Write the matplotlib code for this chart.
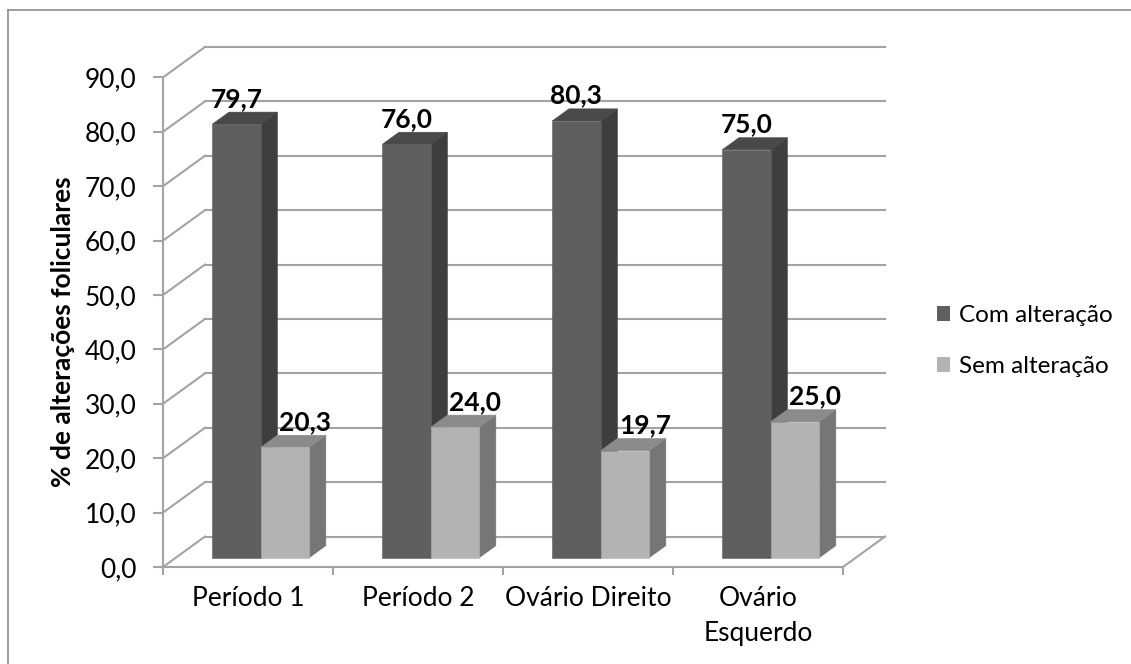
import numpy as np
import matplotlib
matplotlib.use('Agg')
import matplotlib.pyplot as plt
from matplotlib.patches import Polygon, Patch
from matplotlib.lines import Line2D

plt.rcParams['font.family'] = ['Lato', 'DejaVu Sans']

categories = ['Período 1', 'Período 2', 'Ovário Direito', 'Ovário\nEsquerdo']
com_alteracao = [79.7, 76.0, 80.3, 75.0]
sem_alteracao = [20.3, 24.0, 19.7, 25.0]
series_names = ['Com alteração', 'Sem alteração']
y_ticks = np.arange(0, 91, 10)

# pseudo-3D depth offset (category units, value units)
DX, DY = 0.247, 5.6
Z0, Z1 = 0.3, 0.7      # bar depth span as fraction of floor depth
BAR_W = 0.285
GRID = '#a3a3a3'
FS = 19

# front / top / side shades per series
shades = [('#5f5f5f', '#494949', '#3e3e3e'),
          ('#b3b3b3', '#8b8b8b', '#767676')]

fig = plt.figure(figsize=(11.31, 6.64), dpi=100)
ax = fig.add_axes([163 / 1131, 97 / 664, 680 / 1131, 489.6 / 664])
ax.set_xlim(0, 4)
ax.set_ylim(0, 90)
ax.patch.set_alpha(0)

# back wall gridlines and left wall diagonals
for v in y_ticks:
    ax.plot([DX, 4 + DX], [v + DY, v + DY], color=GRID, lw=1.5, clip_on=False, zorder=1)
    ax.plot([0, DX], [v, v + DY], color=GRID, lw=1.5, clip_on=False, zorder=1)
ax.plot([4, 4 + DX], [0, DY], color=GRID, lw=1.5, clip_on=False, zorder=1)


def draw_bar(x0, v, cols, z):
    front, top, side = cols
    bx, by = x0 + Z0 * DX, Z0 * DY
    ddx, ddy = (Z1 - Z0) * DX, (Z1 - Z0) * DY
    faces = [
        ([(bx + BAR_W, by), (bx + BAR_W + ddx, by + ddy),
          (bx + BAR_W + ddx, by + v + ddy), (bx + BAR_W, by + v)], side),
        ([(bx, by + v), (bx + ddx, by + v + ddy),
          (bx + BAR_W + ddx, by + v + ddy), (bx + BAR_W, by + v)], top),
        ([(bx, by), (bx + BAR_W, by), (bx + BAR_W, by + v), (bx, by + v)], front),
    ]
    for pts, c in faces:
        ax.add_patch(Polygon(pts, closed=True, facecolor=c, edgecolor=c,
                             lw=0.4, clip_on=False, zorder=z))
    return bx + BAR_W / 2, by + v + ddy


label_shift = [0.0, 0.12]
for i in range(len(categories)):
    for s, vals in enumerate([com_alteracao, sem_alteracao]):
        x0 = i + 0.5 - BAR_W + s * BAR_W
        cx, ty = draw_bar(x0, vals[i], shades[s], 3 + i * 2 + s)
        ax.text(cx + label_shift[s], ty + 1.0, f'{vals[i]:.1f}'.replace('.', ','),
                ha='center', va='baseline', fontsize=FS, fontweight='bold',
                zorder=20, clip_on=False)

# axes lines and ticks
for side in ['top', 'right']:
    ax.spines[side].set_visible(False)
for side in ['left', 'bottom']:
    ax.spines[side].set_color(GRID)
    ax.spines[side].set_linewidth(1.5)
    ax.spines[side].set_zorder(2)

ax.set_yticks(y_ticks)
ax.set_yticklabels([f'{t:.1f}'.replace('.', ',') for t in y_ticks])
ax.tick_params(axis='y', length=7, width=1.5, color=GRID, pad=12, labelsize=FS)

ax.set_xticks(np.arange(0, 5))
ax.set_xticklabels([])
ax.set_xticks(np.arange(len(categories)) + 0.5, minor=True)
ax.set_xticklabels(categories, minor=True, linespacing=1.5)
ax.tick_params(axis='x', which='major', length=6, width=1.5, color=GRID)
ax.tick_params(axis='x', which='minor', length=0, pad=14, labelsize=FS)
for lbl in ax.get_xticklabels(minor=True):
    lbl.set_verticalalignment('top')

ax.set_ylabel('% de alterações foliculares', fontsize=FS, fontweight='bold')
ax.yaxis.set_label_coords(-0.129, 0.48)

handles = [Patch(facecolor=shades[0][0], edgecolor='none'),
           Patch(facecolor=shades[1][0], edgecolor='none')]
fig.legend(handles, series_names, loc='center left',
           bbox_to_anchor=(937 / 1131, 1 - 341 / 664), frameon=False,
           fontsize=17.5, handlelength=0.55, handleheight=0.55, handletextpad=0.35,
           labelspacing=1.25, borderpad=0, borderaxespad=0)

# outer chart frame
fig.add_artist(Line2D([8 / 1131, 1.0], [1 - 10 / 664] * 2, color='#8c8c8c', lw=1.2))
fig.add_artist(Line2D([8 / 1131] * 2, [0.0, 1 - 10 / 664], color='#8c8c8c', lw=1.2))

fig.savefig('out.png', dpi=100)
